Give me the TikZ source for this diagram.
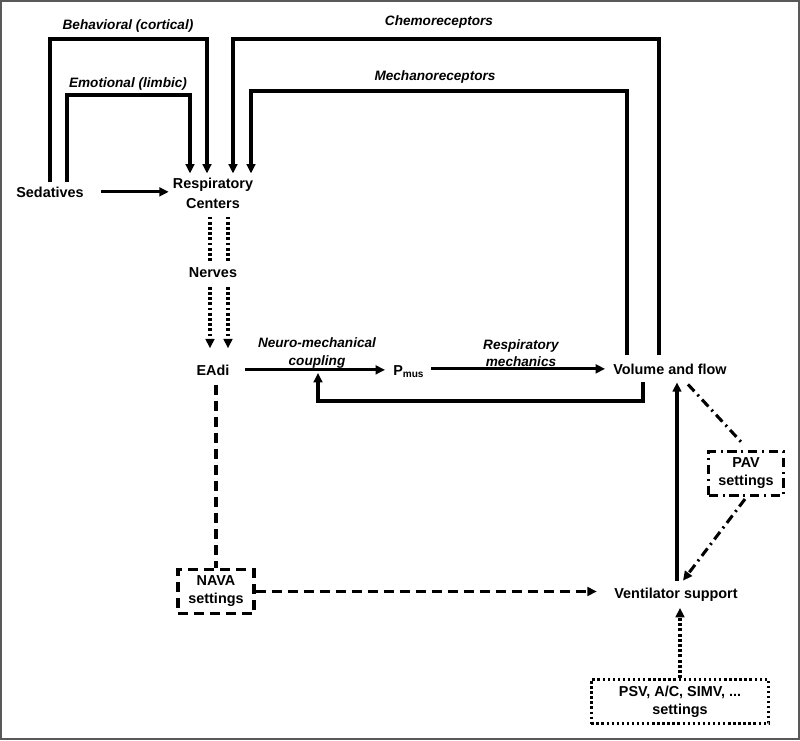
\documentclass[tikz,border=0pt]{standalone}
\usepackage{fontspec}
\setmainfont{Liberation Sans}
\usetikzlibrary{arrows.meta,calc}
\begin{document}
\begin{tikzpicture}[x=0.75pt,y=-0.75pt,
  txt/.style={font=\bfseries\fontsize{10.8}{15}\selectfont, inner sep=3pt, align=center},
  lab/.style={font=\bfseries\itshape\fontsize{10.2}{12.8}\selectfont, inner sep=0pt, align=center},
  ln/.style={line width=2.3pt},
  tip/.style={-{Triangle[length=7pt,width=6.5pt]}},
  arr/.style={ln,tip},
  dsh/.style={ln, dash pattern=on 7.5pt off 4.5pt},
  dotl/.style={ln, dash pattern=on 2.2pt off 1.7pt},
  dotb/.style={line width=2pt, dash pattern=on 1.8pt off 2pt},
  dshdot/.style={ln, dash pattern=on 7pt off 3.5pt on 1.5pt off 3.5pt},
  boxtxt/.style={font=\bfseries\fontsize{10.8}{13.5}\selectfont, align=center, inner sep=2pt, minimum height=33pt}
]
\useasboundingbox (0,0) rectangle (800,740);
\draw[black!65, line width=1.5pt] (1,1) rectangle (799,739);

% text nodes
\node[txt, anchor=base] (sed) at (50,197) {Sedatives};
\node[txt] (rc) at (213,193) {Respiratory\\Centers};
\node[txt, anchor=base] (nerves) at (213,277) {Nerves};
\node[txt, anchor=base] (eadi) at (213,375) {EAdi};
\node[txt, anchor=base west] (pmus) at (389,375) {P\textsubscript{mus}};
\node[txt, anchor=base, inner xsep=6pt, inner ysep=6pt] (vol) at (670,374) {Volume and flow};
\node[txt, anchor=base, inner ysep=5pt] (vent) at (676,598) {Ventilator support};

% boxes
\node[boxtxt, draw, dsh, minimum width=57pt] (nava) at (216,591.5) {NAVA\\settings};
\node[boxtxt, draw, dshdot, minimum width=56pt] (pav) at (746,473.5) {PAV\\settings};
\node[boxtxt, draw, dotb, minimum width=133pt] (psv) at (680,701.5) {PSV, A/C, SIMV, ...\\settings};

% labels
\node[lab] (lbeh) at (128,26) {Behavioral (cortical)};
\node[lab] (lemo) at (128,84) {Emotional (limbic)};
\node[lab] (lchem) at (439,22) {Chemoreceptors};
\node[lab] (lmech) at (435,77) {Mechanoreceptors};
\node[lab] (lnmc) at (317,353) {Neuro-mechanical\\coupling};
\node[lab] (lrm) at (521,353) {Respiratory\\mechanics};

% corner coordinates
\coordinate (beh) at (128,39);
\coordinate (emo) at (128,95);
\coordinate (chemo) at (440,39);
\coordinate (mech) at (440,91);
\coordinate (fb) at (480,401);
\coordinate (nmc) at (318,373);

% loops into respiratory centers
\draw[arr] (sed.north) |- (beh) -| ($(rc.north)+(-6,0)$);
\draw[arr] ($(sed.north)+(17,0)$) |- (emo) -| ($(rc.north)+(-23,0)$);
\draw[arr] ($(vol.north)+(-11,0)$) |- (chemo) -| ($(rc.north)+(20,0)$);
\draw[arr] ($(vol.north)+(-43,0)$) |- (mech) -| ($(rc.north)+(38,0)$);

% sedatives -> respiratory centers
\draw[arr, shorten <=10pt] (sed.east) -- (sed.east -| rc.west);

% nerves (dotted)
\draw[dotl, shorten <=3pt] ($(rc.south)+(-3,0)$) -- ($(nerves.north)+(-3,0)$);
\draw[dotl, shorten <=3pt] ($(rc.south)+(15,0)$) -- ($(nerves.north)+(15,0)$);
\draw[dotl, tip, shorten <=4pt, shorten >=9pt] ($(nerves.south)+(-3,0)$) -- ($(eadi.north)+(-3,0)$);
\draw[dotl, tip, shorten <=4pt, shorten >=9pt] ($(nerves.south)+(15,0)$) -- ($(eadi.north)+(15,0)$);

% main chain
\draw[arr, shorten <=8.5pt, shorten >=3pt] (eadi.east) -- (eadi.east -| pmus.west);
\draw[arr, shorten <=2pt] (pmus.east |- vol.west) -- (vol.west);
\draw[arr] ($(vol.south)+(-27,0)$) |- (fb) -| (nmc);

% ventilator
\draw[arr] ($(vent.north)+(1,0)$) -- ($(vol.south)+(7,0)$);
\draw[dshdot] ($(vol.south)+(18,2)$) -- ($(pav.north)+(-3,-6)$);
\draw[dshdot, tip] ($(pav.south)+(-1,2)$) -- ($(vent.north)+(7,0)$);
\draw[dotl, tip] (psv.north) -- ($(vent.south)+(4,0)$);

% NAVA
\draw[dsh, shorten <=4pt] (eadi.south -| nava.north) -- (nava.north);
\draw[dsh, tip, shorten >=10pt] (nava.east) -- (nava.east -| vent.west);
\end{tikzpicture}
\end{document}
